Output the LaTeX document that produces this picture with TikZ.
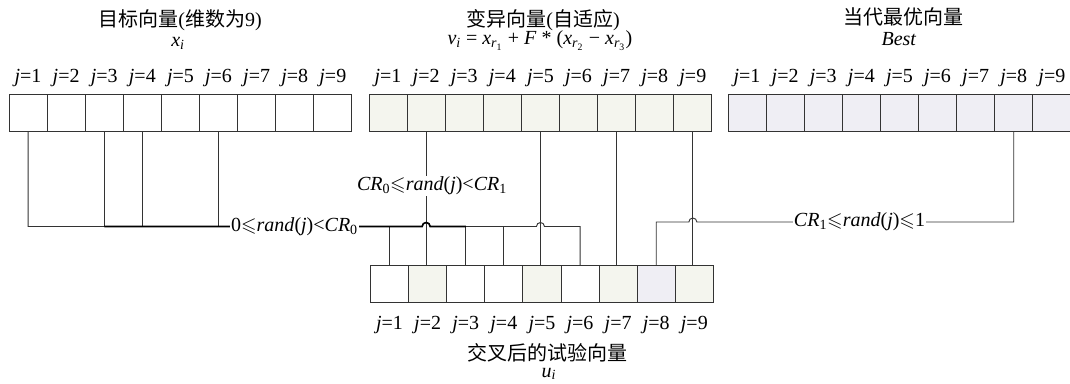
\documentclass[tikz,border=0pt]{standalone}
\usepackage{amssymb}
\usepackage{fontspec}
\setmainfont{Liberation Serif}
\newfontfamily\cjk{Noto Sans CJK SC}
\definecolor{mutfill}{HTML}{F4F5EE}
\definecolor{bestfill}{HTML}{EFEEF4}
\newcommand{\sub}[1]{\textsubscript{#1}}
\begin{document}
\begin{tikzpicture}[x=0.75pt,y=-0.75pt,
  cell/.style={draw=black!80, line width=0.75pt, minimum width=28.575pt,
    minimum height=27.75pt, inner sep=0pt, outer sep=0pt},
  plain/.style={cell, fill=white},
  mut/.style={cell, fill=mutfill},
  best/.style={cell, fill=bestfill},
  txt/.style={font=\fontsize{15}{17}\selectfont, inner sep=0pt, anchor=base},
  wire/.style={draw=black!80, line width=0.7pt},
  heavy/.style={draw=black, line width=1.2pt},
  cond/.style={font=\fontsize{15}{17}\selectfont, fill=white, inner sep=1pt},
]
\useasboundingbox (0,0) rectangle (1070,384);

% ---- the four vectors -------------------------------------------------
\foreach \k in {1,...,9} {
  \node[plain] (a\k) at ({28.05+38.1*(\k-1)},113.5) {};
  \node[mut]   (b\k) at ({388.05+38.1*(\k-1)},113.5) {};
  \node[best]  (d\k) at ({747.05+38.1*(\k-1)},113.5) {};
  \node[txt] (la\k) at ({28.05+38.1*(\k-1)},82.5) {\textit{j}=\k};
  \node[txt] (lb\k) at ({388.05+38.1*(\k-1)},82.5) {\textit{j}=\k};
  \node[txt] (ld\k) at ({747.05+38.1*(\k-1)},82.5) {\textit{j}=\k};
  \node[txt] (lc\k) at ({389.55+38.1*(\k-1)},329.5) {\textit{j}=\k};
}
\foreach \k/\s in {1/plain,2/mut,3/plain,4/plain,5/mut,6/plain,7/mut,8/best,9/mut}
  \node[\s] (c\k) at ({389.55+38.1*(\k-1)},284.5) {};

% ---- titles -------------------------------------------------------------
\node[txt] (ta) at (180,26.5) {{\cjk 目标向量}({\cjk 维数为}9)};
\node[txt] (sa) at (178,46.5) {\textit{x}\sub{\textit{i}}};
\node[txt] (tb) at (543,26.5) {{\cjk 变异向量}({\cjk 自适应})};
\node[txt] (sb) at (540,45) {\textit{v}\sub{\textit{i}} = \textit{x}\sub{\textit{r}\sub{1}} + \textit{F} * (\textit{x}\sub{\textit{r}\sub{2}} − \textit{x}\sub{\textit{r}\sub{3}})};
\node[txt] (td) at (903,25) {\cjk 当代最优向量};
\node[txt] (sd) at (899,45.5) {\textit{Best}};
\node[txt] (tc) at (547,360) {\cjk 交叉后的试验向量};
\node[txt] (sc) at (549,377) {\textit{u}\sub{\textit{i}}};

% ---- bus levels and crossing points -------------------------------------
\coordinate (y0) at (0,226.5);
\coordinate (y1) at (0,222);
\coordinate (x2) at (b2.south |- y0);
\coordinate (x5) at (b5.south |- y0);
\coordinate (x9) at (b9.south |- y1);

% ---- from the mutant vector straight down -------------------------------
\foreach \k in {2,5,7,9}
  \draw[wire] (b\k.south) -- (b\k.south |- c\k.north);

% ---- target vector bus: 0 <= rand(j) < CR0 ------------------------------
\draw[wire] (a1.south) -- (a1.south |- y0)
  -- ([xshift=-3pt]x2) arc[start angle=180,end angle=0,radius=3pt]
  -- ([xshift=-3pt]x5) arc[start angle=180,end angle=0,radius=3pt]
  -- (c6.north |- y0) -- (c6.north);
\foreach \k in {3,4,6}
  \draw[wire] (a\k.south) -- (a\k.south |- y0);
\foreach \k in {1,3,4}
  \draw[wire] (c\k.north |- y0) -- (c\k.north);
\draw[heavy] (a3.south |- y0)
  -- ([xshift=-3pt]x2) arc[start angle=180,end angle=0,radius=3pt]
  -- (c3.north |- y0);

% ---- best vector bus: CR1 <= rand(j) <= 1 -------------------------------
\draw[wire] (d8.south) -- (d8.south |- y1)
  -- ([xshift=3pt]x9) arc[start angle=0,end angle=180,radius=3pt]
  -- (c8.north |- y1) -- (c8.north);

% ---- conditions ---------------------------------------------------------
\node[cond] (k0) at (294.5,226.5) {0$\leqslant$\textit{rand}(\textit{j})<\textit{CR}\sub{0}};
\node[cond] (k1) at (432,186) {\textit{CR}\sub{0}$\leqslant$\textit{rand}(\textit{j})<\textit{CR}\sub{1}};
\node[cond] (k2) at (859.5,222) {\textit{CR}\sub{1}$\leqslant$\textit{rand}(\textit{j})$\leqslant$1};
\end{tikzpicture}
\end{document}
